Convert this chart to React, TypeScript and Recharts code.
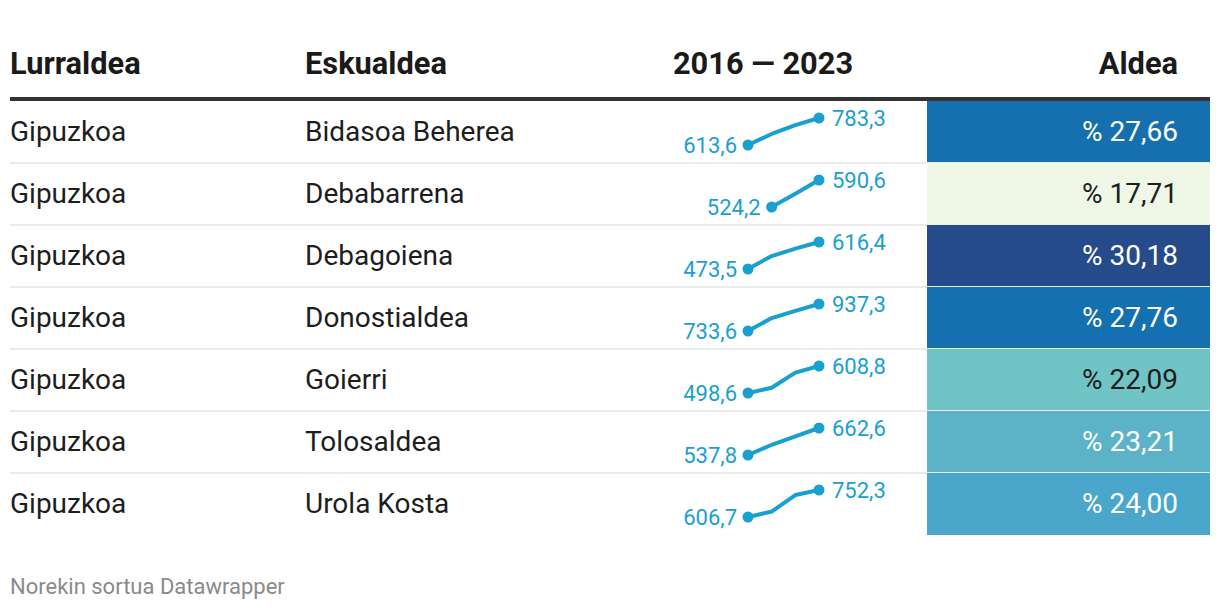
import React from "react";
import { LineChart, Line, XAxis, YAxis } from "recharts";

// sparkline points (intermediate values)
const years = ["2016", "2018", "2020", "2023"];

const territories = ["Gipuzkoa", "Gipuzkoa", "Gipuzkoa", "Gipuzkoa", "Gipuzkoa", "Gipuzkoa", "Gipuzkoa"];
const regions = ["Bidasoa Beherea", "Debabarrena", "Debagoiena", "Donostialdea", "Goierri", "Tolosaldea", "Urola Kosta"];

const bidasoa = [613.6, 683, 739, 783.3];
const debabarrena = [null, 524.2, 557, 590.6];
const debagoiena = [473.5, 542, 581, 616.4];
const donostialdea = [733.6, 831, 886, 937.3];
const goierri = [498.6, 520, 582, 608.8];
const tolosaldea = [537.8, 585, 624, 662.6];
const urolaKosta = [606.7, 636, 725, 752.3];

const sparkSeries = [bidasoa, debabarrena, debagoiena, donostialdea, goierri, tolosaldea, urolaKosta];

const aldea = [27.66, 17.71, 30.18, 27.76, 22.09, 23.21, 24.0];
const aldeaColors = ["#1670b0", "#eff8e7", "#254b8b", "#1570b0", "#71c4c5", "#5cb3c8", "#4aa7cb"];
const aldeaText = ["#fff", "#1d1d1d", "#fff", "#fff", "#1d1d1d", "#fff", "#fff"];

const SPARK = "#1aa0cf";
const ROW_TOP = 101;
const ROW_H = 62;
const TEXT = "#1d1d1d";

const fmt1 = (v: number) => v.toFixed(1).replace(".", ",");
const fmt2 = (v: number) => "% " + v.toFixed(2).replace(".", ",");

const Spark = ({ values }: { values: (number | null)[] }) => {
  const data = years.map((y, i) => ({ year: y, v: values[i] }));
  const first = values.findIndex((v) => v != null);
  const last = values.length - 1;

  const renderDot = (p: any) => {
    if (p.index !== first && p.index !== last) return <g key={p.index} />;
    return <circle key={p.index} cx={p.cx} cy={p.cy} r={5.5} fill={SPARK} />;
  };

  const renderLabel = (p: any) => {
    if (p.value == null || (p.index !== first && p.index !== last)) return null;
    const isFirst = p.index === first;
    return (
      <text
        key={p.index}
        x={isFirst ? p.x - 11 : p.x + 13}
        y={p.y}
        textAnchor={isFirst ? "end" : "start"}
        dominantBaseline="central"
        fontSize={22}
        fontFamily="Roboto"
        fill={SPARK}
      >
        {fmt1(p.value)}
      </text>
    );
  };

  return (
    <LineChart width={250} height={ROW_H} data={data} margin={{ top: 17, right: 91, bottom: 18, left: 88 }}>
      <XAxis dataKey="year" hide />
      <YAxis hide domain={["dataMin", "dataMax"]} />
      <Line
        type="linear"
        dataKey="v"
        stroke={SPARK}
        strokeWidth={4}
        strokeLinejoin="round"
        strokeLinecap="round"
        dot={renderDot}
        activeDot={false}
        label={renderLabel}
        isAnimationActive={false}
      />
    </LineChart>
  );
};

const abs = (left: number, top: number, extra: React.CSSProperties = {}): React.CSSProperties => ({
  position: "absolute",
  left,
  top,
  ...extra,
});

export default function App() {
  const headStyle: React.CSSProperties = { fontSize: 30.8, fontWeight: 700, lineHeight: "40px", color: "#1a1a1a", whiteSpace: "nowrap" };
  const cellStyle: React.CSSProperties = { fontSize: 28, lineHeight: `${ROW_H}px`, color: TEXT, whiteSpace: "nowrap" };

  return (
    <div style={{ position: "absolute", left: 0, top: 0, width: 1220, height: 610, background: "#fff", fontFamily: "Roboto, sans-serif" }}>
      {/* header */}
      <div style={abs(10, 44, headStyle)}>Lurraldea</div>
      <div style={abs(305, 44, headStyle)}>Eskualdea</div>
      <div style={abs(663, 44, { ...headStyle, width: 200, textAlign: "center" })}>2016 — 2023</div>
      <div style={abs(978, 44, { ...headStyle, width: 200, textAlign: "right" })}>Aldea</div>
      <div style={abs(10, 97, { width: 1200, height: 4, background: "#333" })} />

      {regions.map((r, i) => {
        const top = ROW_TOP + i * ROW_H;
        return (
          <React.Fragment key={r}>
            <div style={abs(927, top, { width: 283, height: ROW_H, background: aldeaColors[i] })} />
            <div style={abs(10, top, cellStyle)}>{territories[i]}</div>
            <div style={abs(305, top, cellStyle)}>{r}</div>
            <div style={abs(660, top, { width: 250, height: ROW_H })}>
              <Spark values={sparkSeries[i]} />
            </div>
            <div style={abs(978, top, { ...cellStyle, width: 200, textAlign: "right", color: aldeaText[i] })}>{fmt2(aldea[i])}</div>
            {i < regions.length - 1 && (
              <div style={abs(10, top + ROW_H - 1, { width: 1200, height: 2, background: "#ebebeb" })} />
            )}
          </React.Fragment>
        );
      })}

      <div style={abs(10, 572, { fontSize: 22, lineHeight: "30px", color: "#8a8a8a", whiteSpace: "nowrap" })}>
        Norekin sortua Datawrapper
      </div>
    </div>
  );
}
